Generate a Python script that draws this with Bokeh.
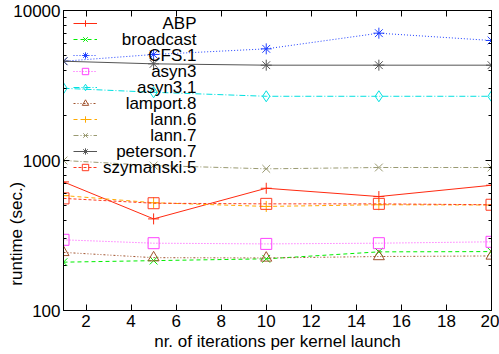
import math
from bokeh.plotting import figure
from bokeh.models import (FixedTicker, LinearAxis, LogAxis, Legend, LegendItem,
                          Label, PrintfTickFormatter, Range1d)
from bokeh.embed import file_html
from bokeh.resources import INLINE

iterations = [1, 5, 10, 15, 20]

series_names = ["ABP", "broadcast", "CFS.1", "asyn3", "asyn3.1", "lamport.8",
                "lann.6", "lann.7", "peterson.7", "szymanski.5"]

abp = [720, 408, 653, 575, 684]
broadcast = [210, 215, 221, 246, 247]
cfs1 = [4590, 5090, 5550, 7060, 6310]
asyn3 = [296, 281, 278, 281, 287]
asyn3_1 = [3030, 2850, 2680, 2680, 2680]
lamport8 = [244, 225, 224, 229, 231]
lann6 = [584, 523, 494, 507, 505]
lann7 = [1000, 926, 880, 898, 898]
peterson7 = [4590, 4410, 4320, 4320, 4320]
szymanski5 = [559, 519, 514, 514, 507]

values = [abp, broadcast, cfs1, asyn3, asyn3_1, lamport8, lann6, lann7,
          peterson7, szymanski5]

colors = ["#ff2a10", "#00ee00", "#2040ff", "#ff40ff", "#00e0e0", "#a0522d",
          "#ffaa00", "#9a9a72", "#555555", "#ff3a20"]
dashes = ["solid", "4 3", "1 2", "1 2", "6 2 1 2", "2 2 1 2 1 2",
          "4 3", "5 2 1 2", "solid", "3 2"]
markers = ["cross", "x", "asterisk", "square", "diamond", "triangle",
           "cross", "x", "asterisk", "square"]

x_ticks = [2, 4, 6, 8, 10, 12, 14, 16, 18, 20]
y_ticks = [100, 1000, 10000]
y_minor = [200, 300, 400, 500, 600, 700, 800, 900,
           2000, 3000, 4000, 5000, 6000, 7000, 8000, 9000]

x_title = "nr. of iterations per kernel launch"
y_title = "runtime (sec.)"

FONT = "Liberation Sans"
FS = "17px"

p = figure(width=499, height=354, output_backend="svg", toolbar_location=None,
           y_axis_type="log", x_range=Range1d(1, 20), y_range=Range1d(100, 10000),
           min_border_left=63, min_border_right=8, min_border_top=10,
           min_border_bottom=44)
p.xaxis.visible = False
p.yaxis.visible = False
p.grid.visible = False
p.outline_line_color = "black"
p.outline_line_width = 1
p.background_fill_color = "white"

items = []
for i, (name, vals, c, d, m) in enumerate(zip(series_names, values, colors,
                                               dashes, markers)):
    r1 = p.line(iterations, vals, line_color=c, line_dash=d, line_width=1)
    r2 = p.scatter(iterations, vals, marker=m, size=11, line_color=c,
                   fill_color=None, line_width=1)
    # distinct invisible placeholder labels; visible labels are drawn right-aligned below
    items.append(LegendItem(label="\u00a0" * (i + 1), renderers=[r2, r1]))

def style_axis(ax, labels=True):
    ax.axis_line_color = "black"
    ax.major_tick_in = 6
    ax.major_tick_out = 0
    ax.minor_tick_in = 3
    ax.minor_tick_out = 0
    ax.major_tick_line_color = "black"
    ax.minor_tick_line_color = "black"
    ax.major_label_text_font = FONT
    ax.major_label_text_font_size = FS
    ax.major_label_text_color = "black"
    ax.axis_label_text_font = FONT
    ax.axis_label_text_font_size = FS
    ax.axis_label_text_font_style = "normal"
    ax.axis_label_text_color = "black"
    if not labels:
        ax.major_label_text_alpha = 0
        ax.major_label_text_font_size = "1px"

xb = LinearAxis(ticker=FixedTicker(ticks=x_ticks), axis_label=x_title)
style_axis(xb)
xb.major_label_standoff = 4
xb.axis_label_standoff = 2
p.add_layout(xb, "below")

xt = LinearAxis(ticker=FixedTicker(ticks=x_ticks))
style_axis(xt, labels=False)
p.add_layout(xt, "above")

# trailing no-break spaces push the centred title down, as in the original
yl = LogAxis(ticker=FixedTicker(ticks=y_ticks, minor_ticks=y_minor),
             formatter=PrintfTickFormatter(format="%d"),
             axis_label=y_title + "\u00a0" * 31)
style_axis(yl)
yl.major_label_standoff = 3
yl.axis_label_standoff = -16
p.add_layout(yl, "left")

yr = LogAxis(ticker=FixedTicker(ticks=y_ticks, minor_ticks=y_minor))
style_axis(yr, labels=False)
p.add_layout(yr, "right")

ROW = 16
leg = Legend(items=items, location=(10, 135.3), orientation="vertical")
leg.background_fill_alpha = 0
leg.border_line_alpha = 0
leg.label_text_font_size = "2px"
leg.label_text_alpha = 0
leg.label_standoff = 0
leg.label_width = 0
leg.glyph_width = 24
leg.glyph_height = 16
leg.label_height = 16
leg.spacing = 0
leg.padding = 0
leg.margin = 0
p.add_layout(leg)

# right-aligned legend labels (screen units relative to the plot frame)
for i, name in enumerate(series_names):
    p.add_layout(Label(x=133, y=287.3 - ROW * i,
                       x_units="screen", y_units="screen", text=name,
                       text_align="right", text_baseline="middle",
                       text_font=FONT, text_font_size=FS, text_color="black"))

open("out.html", "w").write(file_html(p, INLINE))
